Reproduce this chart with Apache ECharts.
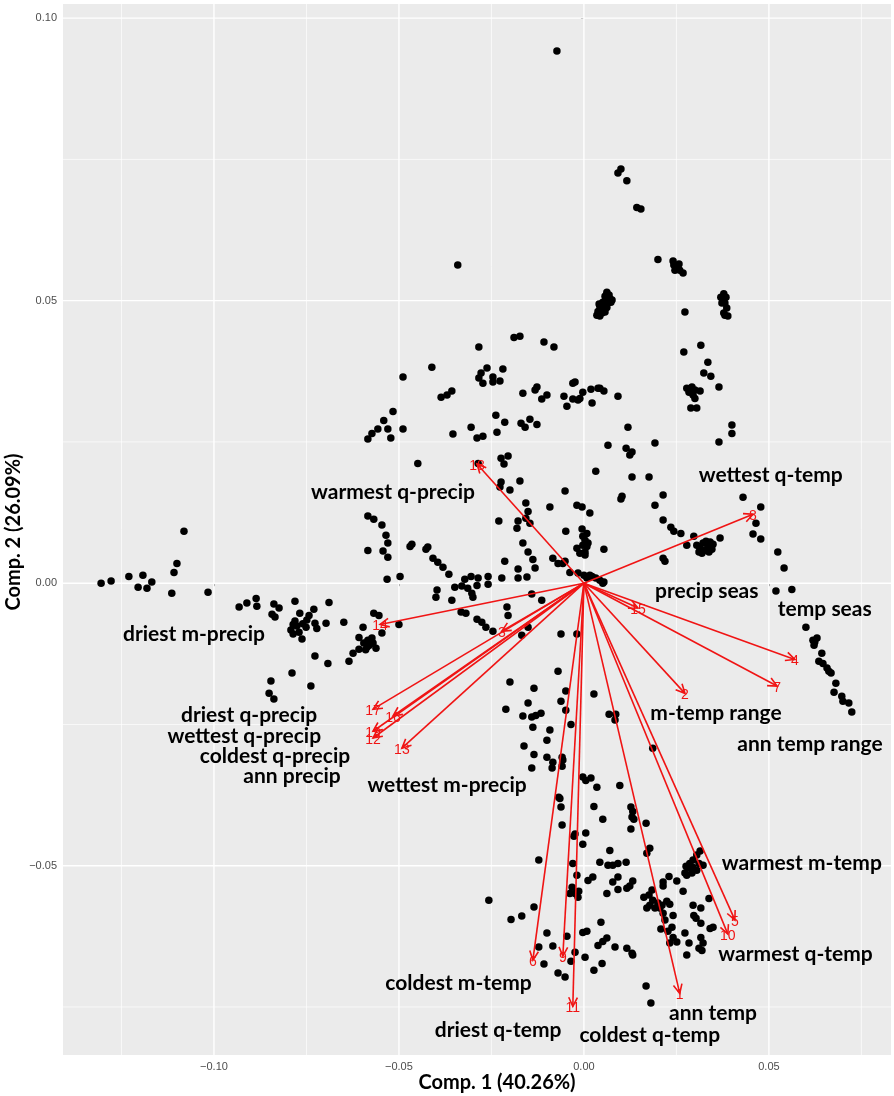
<!DOCTYPE html>
<html><head><meta charset="utf-8">
<script src="https://cdn.jsdelivr.net/npm/echarts@6/dist/echarts.min.js"></script>
<style>html,body{margin:0;padding:0;background:#fff}#c{width:894px;height:1096px}</style>
</head><body><div id="c"></div>
<script>
// ---- data ----
const scorePoints = [
[-0.1081,0.0092],[-0.1100,0.0035],[-0.1108,0.0019],[-0.1305,0.0000],[-0.1278,0.0004],[-0.1230,0.0012],[-0.1192,0.0014],[-0.1205,-0.0007],[-0.1181,-0.0009],[-0.1168,0.0002],[-0.1114,-0.0018],[-0.1016,-0.0016],
[-0.0932,-0.0042],[-0.0911,-0.0035],[-0.0886,-0.0027],[-0.0884,-0.0041],[-0.0838,-0.0037],[-0.0824,-0.0044],[-0.0843,-0.0055],[-0.0835,-0.0060],
[-0.0781,-0.0032],[-0.0768,-0.0053],[-0.0781,-0.0067],[-0.0786,-0.0073],[-0.0792,-0.0083],[-0.0786,-0.0090],[-0.0770,-0.0087],[-0.0762,-0.0099],[-0.0749,-0.0065],[-0.0751,-0.0078],[-0.0743,-0.0057],[-0.0730,-0.0046],[-0.0727,-0.0071],[-0.0722,-0.0080],[-0.0697,-0.0071],[-0.0689,-0.0034],[-0.0649,-0.0069],[-0.0776,-0.0076],[-0.0760,-0.0072],
[-0.0727,-0.0129],[-0.0692,-0.0142],[-0.0635,-0.0138],[-0.0624,-0.0124],[-0.0608,-0.0117],[-0.0608,-0.0096],[-0.0597,-0.0078],[-0.0595,-0.0106],[-0.0584,-0.0101],[-0.0573,-0.0097],[-0.0570,-0.0106],[-0.0562,-0.0115],[-0.0586,-0.0113],[-0.0580,-0.0110],[-0.0575,-0.0100],[-0.0590,-0.0118],[-0.0568,-0.0053],[-0.0554,-0.0057],[-0.0546,-0.0088],[-0.0500,-0.0073],
[-0.0789,-0.0159],[-0.0846,-0.0173],[-0.0738,-0.0182],[-0.0851,-0.0195],[-0.0838,-0.0205],
[-0.0584,0.0119],[-0.0568,0.0113],[-0.0546,0.0103],[-0.0535,0.0085],[-0.0530,0.0071],[-0.0584,0.0058],[-0.0543,0.0057],[-0.0530,0.0046],[-0.0532,0.0007],
[-0.0189,0.0435],[-0.0173,0.0437],[-0.0108,0.0427],[-0.0081,0.0418],[-0.0284,0.0418],[-0.0411,0.0382],[-0.0489,0.0365],[-0.0278,0.0372],[-0.0262,0.0381],[-0.0284,0.0363],[-0.0273,0.0354],[-0.0246,0.0365],[-0.0246,0.0356],[-0.0227,0.0358],[-0.0219,0.0379],
[-0.0386,0.0329],[-0.0370,0.0333],[-0.0357,0.0340],[-0.0165,0.0336],[-0.0127,0.0347],[-0.0132,0.0342],[-0.0114,0.0326],[-0.0100,0.0333],[-0.0054,0.0331],[-0.0030,0.0354],[-0.0024,0.0356],[-0.0046,0.0313],[-0.0030,0.0326],[-0.0016,0.0324],[-0.0003,0.0338],[0.0019,0.0343],[0.0022,0.0319],[0.0038,0.0345],
[-0.0516,0.0304],[-0.0541,0.0288],[-0.0557,0.0273],[-0.0573,0.0265],[-0.0584,0.0255],[-0.0530,0.0273],[-0.0522,0.0257],[-0.0489,0.0273],[-0.0354,0.0264],[-0.0305,0.0276],[-0.0289,0.0257],[-0.0273,0.0260],[-0.0238,0.0297],[-0.0214,0.0285],[-0.0235,0.0267],[-0.0170,0.0283],[-0.0159,0.0276],[-0.0146,0.0290],[-0.0127,0.0281],
[-0.0449,0.0212],[-0.0286,0.0212],[-0.0224,0.0221],[-0.0205,0.0225],[-0.0216,0.0211],[-0.0224,0.0179],[-0.0227,0.0170],[-0.0200,0.0165],[-0.0173,0.0181],[-0.0051,0.0163],[0.0032,0.0198],
[-0.0157,0.0142],[-0.0151,0.0127],[-0.0092,0.0135],[-0.0019,0.0138],[-0.0005,0.0135],[0.0016,0.0124],[-0.0230,0.0110],[-0.0178,0.0110],[-0.0181,0.0097],[-0.0157,0.0115],[-0.0146,0.0106],[-0.0049,0.0092],[-0.0005,0.0096],[-0.0003,0.0083],[0.0008,0.0088],[0.0003,0.0076],[-0.0003,0.0067],[0.0011,0.0071],[-0.0019,0.0062],[-0.0011,0.0053],[0.0003,0.0050],[0.0008,0.0065],[0.0003,0.0055],
[-0.0165,0.0071],[-0.0151,0.0055],[-0.0138,0.0042],[-0.0132,0.0027],[-0.0084,0.0044],[-0.0070,0.0035],[-0.0051,0.0039],[-0.0057,0.0035],[-0.0214,0.0039],[-0.0178,0.0025],[-0.0154,0.0011],
[-0.0470,0.0065],[-0.0465,0.0069],[-0.0427,0.0060],[-0.0422,0.0064],[-0.0408,0.0044],[-0.0395,0.0037],[-0.0381,0.0028],[-0.0365,0.0016],[-0.0497,0.0012],[-0.0305,0.0012],[-0.0259,0.0012],[-0.0286,0.0009],[-0.0322,0.0007],[-0.0222,0.0009],[-0.0178,0.0009],[-0.0038,0.0019],[-0.0016,0.0018],
[0.0000,0.0014],[0.0016,0.0011],[0.0032,0.0009],[0.0043,0.0005],[0.0054,0.0002],[0.0022,0.0012],[0.0008,0.0009],[0.0054,0.0060],[0.0016,0.0014],[0.0051,0.0000],
[-0.0397,-0.0012],[-0.0400,-0.0025],[-0.0357,-0.0030],[-0.0349,-0.0007],[-0.0330,-0.0005],[-0.0314,-0.0009],[-0.0303,-0.0018],[-0.0300,-0.0025],[-0.0289,-0.0004],[-0.0259,-0.0002],[-0.0332,-0.0051],[-0.0319,-0.0053],[-0.0289,-0.0064],[-0.0276,-0.0069],[-0.0265,-0.0078],[-0.0246,-0.0085],[-0.0208,-0.0042],[-0.0205,-0.0057],[-0.0141,-0.0019],[-0.0114,-0.0030],[-0.0168,-0.0092],[-0.0151,-0.0078],
[0.0192,0.0138],[0.0214,0.0112],[0.0235,0.0099],[0.0243,0.0092],[0.0262,0.0088],[0.0278,0.0067],[0.0297,0.0083],
[0.0305,0.0067],[0.0314,0.0062],[0.0322,0.0071],[0.0327,0.0058],[0.0335,0.0065],[0.0341,0.0073],[0.0346,0.0060],[0.0330,0.0074],[0.0311,0.0055],[0.0349,0.0069],[0.0319,0.0053],[0.0338,0.0055],
[0.0368,0.0080],[0.0214,0.0044],[0.0219,0.0039],[0.0478,0.0135],[0.0465,0.0106],[0.0457,0.0087],[0.0478,0.0078],[0.0430,0.0152],[0.0524,0.0055],[0.0541,0.0027],[0.0519,-0.0014],[0.0562,-0.0011],
[0.0600,-0.0078],[0.0624,-0.0104],[0.0619,-0.0101],[0.0630,-0.0097],[0.0622,-0.0110],[0.0643,-0.0124],[0.0635,-0.0138],[0.0646,-0.0142],[0.0657,-0.0150],[0.0668,-0.0159],[0.0662,-0.0156],[0.0681,-0.0177],[0.0676,-0.0193],[0.0697,-0.0200],[0.0700,-0.0209],[0.0716,-0.0212],[0.0724,-0.0228],
[0.0119,0.0276],[0.0065,0.0244],[0.0114,0.0239],[0.0124,0.0227],[0.0130,0.0232],[0.0192,0.0248],[0.0365,0.0250],[0.0400,0.0280],[0.0400,0.0265],[0.0130,0.0188],[0.0176,0.0188],[0.0103,0.0154],[0.0100,0.0149],[0.0214,0.0156],
[0.0100,0.0733],[0.0092,0.0726],[0.0116,0.0712],[0.0143,0.0665],[0.0154,0.0662],[0.0200,0.0573],[0.0241,0.0570],[0.0243,0.0563],[0.0251,0.0559],[0.0254,0.0558],[0.0259,0.0554],[0.0268,0.0549],[0.0246,0.0554],[0.0257,0.0565],
[0.0062,0.0515],[0.0068,0.0510],[0.0057,0.0508],[0.0070,0.0504],[0.0059,0.0501],[0.0051,0.0497],[0.0065,0.0496],[0.0073,0.0497],[0.0054,0.0492],[0.0043,0.0490],[0.0062,0.0488],[0.0046,0.0485],[0.0054,0.0483],[0.0038,0.0481],[0.0049,0.0478],[0.0035,0.0474],[0.0043,0.0473],[0.0057,0.0480],[0.0041,0.0494],[0.0076,0.0501],
[0.0378,0.0512],[0.0376,0.0503],[0.0381,0.0496],[0.0373,0.0496],[0.0386,0.0487],[0.0378,0.0478],[0.0389,0.0473],[0.0381,0.0474],[0.0370,0.0506],[0.0384,0.0506],
[0.0273,0.0480],[0.0316,0.0421],[0.0270,0.0409],[0.0335,0.0391],[0.0324,0.0372],[0.0343,0.0366],[0.0365,0.0347],
[0.0278,0.0345],[0.0292,0.0347],[0.0300,0.0342],[0.0295,0.0333],[0.0314,0.0340],[0.0300,0.0327],[0.0289,0.0310],[0.0305,0.0310],[0.0284,0.0338],
[-0.0011,0.0327],[0.0043,0.0345],[0.0054,0.0340],[0.0092,0.0331],
[-0.0073,0.0942],[-0.0341,0.0563],
[-0.0070,-0.0156],[-0.0200,-0.0175],[-0.0135,-0.0186],[-0.0049,-0.0191],[-0.0062,-0.0209],[0.0027,-0.0196],[-0.0211,-0.0223],[-0.0151,-0.0212],[-0.0165,-0.0235],[-0.0141,-0.0237],[-0.0130,-0.0234],[-0.0116,-0.0230],[-0.0138,-0.0255],[-0.0049,-0.0225],[-0.0035,-0.0250],[-0.0092,-0.0260],[-0.0100,-0.0278],[0.0068,-0.0232],[0.0086,-0.0232],[0.0084,-0.0242],
[-0.0162,-0.0288],[-0.0135,-0.0303],[-0.0100,-0.0308],[-0.0084,-0.0317],[-0.0086,-0.0327],[-0.0059,-0.0308],[-0.0057,-0.0313],[-0.0059,-0.0324],[-0.0141,-0.0327],[-0.0003,-0.0343],[0.0005,-0.0349],[0.0019,-0.0345],[-0.0062,-0.0090],[-0.0019,-0.0090],[0.0186,-0.0292],[-0.0065,-0.0381],[-0.0027,-0.0448],
[0.0035,-0.0361],[0.0097,-0.0358],[-0.0068,-0.0379],[-0.0062,-0.0396],[0.0027,-0.0395],[0.0127,-0.0396],[0.0132,-0.0404],[0.0130,-0.0414],[0.0135,-0.0418],[0.0168,-0.0425],[0.0051,-0.0418],[-0.0059,-0.0428],[0.0127,-0.0435],[-0.0024,-0.0444],[0.0005,-0.0442],[-0.0003,-0.0462],[0.0070,-0.0473],[0.0178,-0.0469],[0.0170,-0.0478],
[-0.0122,-0.0490],[-0.0030,-0.0496],[0.0043,-0.0494],[0.0065,-0.0499],[0.0078,-0.0499],[0.0092,-0.0496],[0.0114,-0.0494],[-0.0019,-0.0517],[0.0011,-0.0526],[0.0024,-0.0520],[0.0078,-0.0529],[0.0092,-0.0520],[0.0132,-0.0527],[0.0124,-0.0536],[0.0116,-0.0540],[0.0092,-0.0542],[0.0062,-0.0549],[-0.0032,-0.0538],[-0.0024,-0.0549],[-0.0014,-0.0545],[-0.0038,-0.0549],[-0.0016,-0.0556],
[-0.0257,-0.0561],[-0.0135,-0.0573],[-0.0168,-0.0589],[-0.0197,-0.0595],[-0.0100,-0.0619],[-0.0122,-0.0644],[-0.0084,-0.0642],[-0.0046,-0.0625],[-0.0003,-0.0618],[0.0008,-0.0616],[0.0046,-0.0600],[0.0038,-0.0641],[0.0051,-0.0634],[0.0062,-0.0628],[0.0084,-0.0644],[0.0116,-0.0646],[0.0130,-0.0655],[0.0132,-0.0658],[-0.0024,-0.0653],[0.0003,-0.0662],[0.0049,-0.0673],[0.0027,-0.0685],[-0.0108,-0.0674],[-0.0035,-0.0669],[-0.0070,-0.0690],[-0.0051,-0.0697],[0.0168,-0.0713],[0.0181,-0.0743],
[0.0314,-0.0474],[0.0305,-0.0481],[0.0295,-0.0490],[0.0286,-0.0496],[0.0276,-0.0501],[0.0281,-0.0504],[0.0295,-0.0503],[0.0311,-0.0496],[0.0322,-0.0499],[0.0305,-0.0508],[0.0292,-0.0513],[0.0278,-0.0517],[0.0273,-0.0513],
[0.0230,-0.0519],[0.0251,-0.0527],[0.0214,-0.0529],[0.0214,-0.0536],[0.0268,-0.0545],[0.0184,-0.0543],[0.0176,-0.0552],[0.0186,-0.0561],[0.0200,-0.0566],[0.0211,-0.0570],[0.0178,-0.0570],[0.0192,-0.0575],[0.0205,-0.0575],[0.0224,-0.0563],[0.0232,-0.0568],[0.0162,-0.0556],[0.0170,-0.0575],[0.0214,-0.0584],[0.0219,-0.0596],[0.0238,-0.0609],[0.0241,-0.0588],
[0.0295,-0.0570],[0.0316,-0.0575],[0.0338,-0.0558],[0.0297,-0.0588],[0.0303,-0.0593],[0.0316,-0.0602],[0.0349,-0.0609],[0.0341,-0.0611],[0.0208,-0.0612],[0.0227,-0.0616],[0.0241,-0.0627],[0.0251,-0.0635],[0.0273,-0.0619],[0.0284,-0.0637],[0.0232,-0.0637],[0.0316,-0.0627],[0.0322,-0.0637],[0.0319,-0.0650],[0.0311,-0.0646],[0.0278,-0.0658]
];

const arrowIds = ['1','2','3','4','5','6','7','8','9','10','11','12','13','14','15','16','17','18','19'];
const arrowX = [0.0259,0.0273,-0.0222,0.0570,0.0408,-0.0138,0.0522,0.0457,-0.0057,0.0389,-0.0030,-0.0570,-0.0492,-0.0551,0.0146,-0.0516,-0.0570,-0.0289,-0.0570];
const arrowY = [-0.0726,-0.0195,-0.0085,-0.0135,-0.0596,-0.0667,-0.0182,0.0122,-0.0660,-0.0621,-0.0749,-0.0274,-0.0292,-0.0073,-0.0044,-0.0235,-0.0223,0.0211,-0.0262];

const varNames = ['warmest q-precip','wettest q-temp','precip seas','temp seas','driest m-precip','m-temp range','ann temp range','driest q-precip','wettest q-precip','coldest q-precip','ann precip','wettest m-precip','warmest m-temp','warmest q-temp','coldest m-temp','ann temp','driest q-temp','coldest q-temp'];
const varNameX = [-0.0516,0.0505,0.0332,0.0651,-0.1054,0.0357,0.0611,-0.0905,-0.0918,-0.0835,-0.0789,-0.0370,0.0589,0.0572,-0.0339,0.0349,-0.0232,0.0178];
const varNameY = [0.0161,0.0191,-0.0014,-0.0046,-0.0090,-0.0230,-0.0285,-0.0234,-0.0271,-0.0306,-0.0342,-0.0358,-0.0496,-0.0657,-0.0708,-0.0761,-0.0791,-0.0800];

const xBreaks = [-0.10,-0.05,0.00,0.05];
const xMinorBreaks = [-0.125,-0.075,-0.025,0.025,0.075];
const yBreaks = [-0.05,0.00,0.05,0.10];
const yMinorBreaks = [-0.075,-0.025,0.025,0.075];
const xTitle = 'Comp. 1 (40.26%)';
const yTitle = 'Comp. 2 (26.09%)';

// ---- chart ----
const RED = '#f01414';
const fmt = v => (v < 0 ? '\u2212' : '') + Math.abs(v).toFixed(2);
const gridData = [];
xBreaks.forEach(v => gridData.push([v, 0, 1]));
xMinorBreaks.forEach(v => gridData.push([v, 0, 0]));
yBreaks.forEach(v => gridData.push([v, 1, 1]));
yMinorBreaks.forEach(v => gridData.push([v, 1, 0]));

const chart = echarts.init(document.getElementById('c'), null, {renderer: 'canvas'});
chart.setOption({
  animation: false,
  backgroundColor: '#ffffff',
  grid: {left: 63, right: 3, top: 4, bottom: 41, show: true, backgroundColor: '#EBEBEB', borderWidth: 0},
  xAxis: {
    type: 'value', min: -0.1408, max: 0.0830,
    axisLine: {show: false}, splitLine: {show: false},
    axisTick: {show: true, length: 3, customValues: xBreaks, lineStyle: {color: '#333', width: 1}},
    axisLabel: {customValues: xBreaks, formatter: fmt, color: '#4D4D4D', fontSize: 11, fontFamily: 'Liberation Sans', margin: 6}
  },
  yAxis: {
    type: 'value', min: -0.0835, max: 0.1025,
    axisLine: {show: false}, splitLine: {show: false},
    axisTick: {show: true, length: 3, customValues: yBreaks, lineStyle: {color: '#333', width: 1}},
    axisLabel: {customValues: yBreaks, formatter: fmt, color: '#4D4D4D', fontSize: 11, fontFamily: 'Liberation Sans', margin: 6}
  },
  graphic: [
    {type: 'text', x: 497, y: 1083, style: {text: xTitle, font: 'bold 20px Lato', fill: '#000', align: 'center', verticalAlign: 'middle'}},
    {type: 'text', x: 14, y: 532, rotation: Math.PI / 2, style: {text: yTitle, font: 'bold 20px Lato', fill: '#000', align: 'center', verticalAlign: 'middle'}}
  ],
  series: [
    {
      type: 'custom', z: 1, silent: true, data: gridData,
      renderItem: function (params, api) {
        const cs = params.coordSys;
        const v = api.value(0), o = api.value(1), maj = api.value(2);
        let shape;
        if (o === 0) { const p = api.coord([v, 0]); shape = {x1: p[0], y1: cs.y, x2: p[0], y2: cs.y + cs.height}; }
        else { const p = api.coord([0, v]); shape = {x1: cs.x, y1: p[1], x2: cs.x + cs.width, y2: p[1]}; }
        return {type: 'line', shape: shape, style: {stroke: '#FFFFFF', lineWidth: maj ? 1.4 : 0.7}};
      },
      encode: {x: 0, y: 1}
    },
    {
      type: 'scatter', z: 2, silent: true, data: scorePoints,
      symbol: 'circle', symbolSize: 7.5, itemStyle: {color: '#000000', opacity: 1}
    },
    {
      type: 'custom', z: 3, silent: true,
      data: arrowX.map((x, i) => [x, arrowY[i], i]),
      encode: {x: 0, y: 1},
      renderItem: function (params, api) {
        const s = api.coord([0, 0]);
        const e = api.coord([api.value(0), api.value(1)]);
        const ang = Math.atan2(e[1] - s[1], e[0] - s[0]);
        const L = 10, a = Math.PI / 7;
        const h1 = [e[0] - L * Math.cos(ang - a), e[1] - L * Math.sin(ang - a)];
        const h2 = [e[0] - L * Math.cos(ang + a), e[1] - L * Math.sin(ang + a)];
        return {type: 'group', children: [
          {type: 'line', shape: {x1: s[0], y1: s[1], x2: e[0], y2: e[1]}, style: {stroke: RED, lineWidth: 1.6}},
          {type: 'polyline', shape: {points: [h1, e, h2]}, style: {stroke: RED, lineWidth: 1.6, fill: null}},
          {type: 'text', x: e[0], y: e[1] + 2, style: {text: arrowIds[api.value(2)], fill: RED, font: '14px "Liberation Sans"', align: 'center', verticalAlign: 'middle'}}
        ]};
      }
    },
    {
      type: 'custom', z: 4, silent: true,
      data: varNameX.map((x, i) => [x, varNameY[i], i]),
      encode: {x: 0, y: 1},
      renderItem: function (params, api) {
        const p = api.coord([api.value(0), api.value(1)]);
        return {type: 'text', x: p[0], y: p[1], style: {text: varNames[api.value(2)], fill: '#000', font: 'bold 21px Lato', align: 'center', verticalAlign: 'middle'}};
      }
    }
  ]
});
</script>
</body></html>
